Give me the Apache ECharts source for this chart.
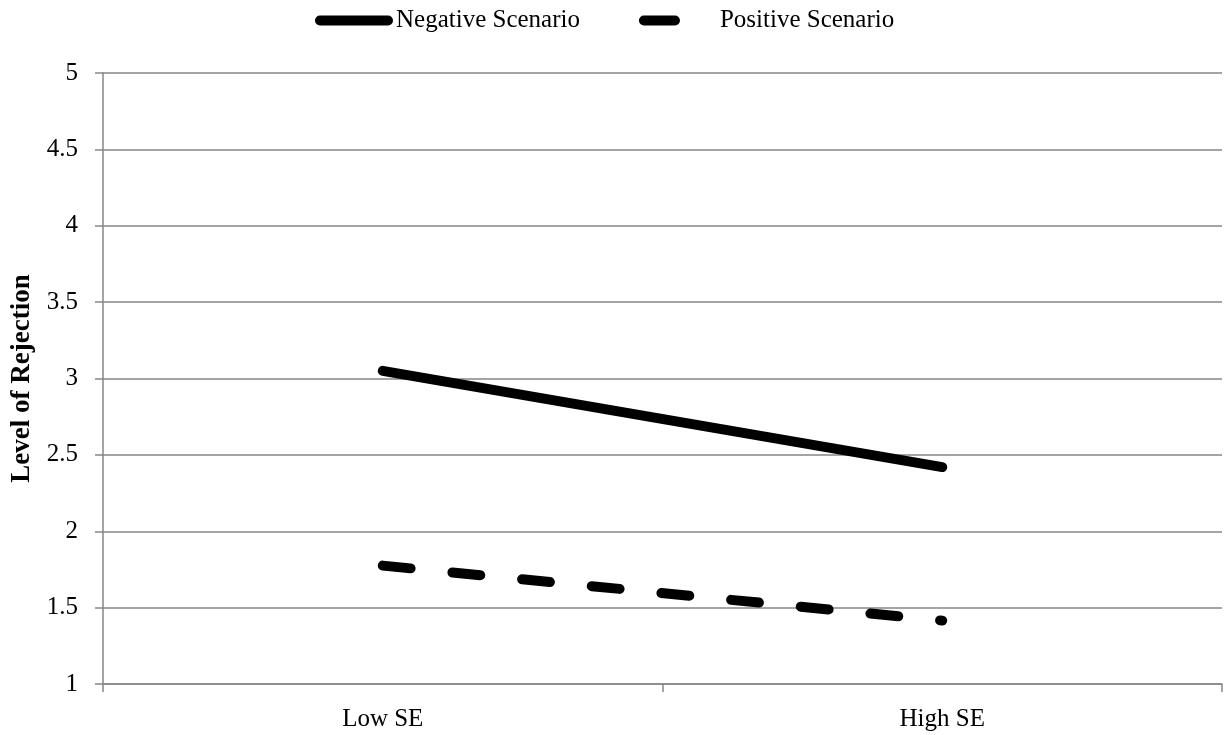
<!DOCTYPE html>
<html>
<head>
<meta charset="utf-8">
<script src="https://cdn.jsdelivr.net/npm/echarts@6/dist/echarts.min.js"></script>
<style>
html,body{margin:0;padding:0;background:#fff;}
#chart{width:1225px;height:735px;}
</style>
</head>
<body>
<div id="chart"></div>
<script>
const categories = ['Low SE', 'High SE'];
const negativeScenario = [3.05, 2.42];
const positiveScenario = [1.775, 1.415];
const yTicks = [1, 1.5, 2, 2.5, 3, 3.5, 4, 4.5, 5];
const seriesNames = ['Negative Scenario', 'Positive Scenario'];
const yAxisTitle = 'Level of Rejection';

const FONT = '"Liberation Serif", "DejaVu Serif", serif';
const GRID_COLOR = '#868686';
const chart = echarts.init(document.getElementById('chart'));
chart.setOption({
  animation: false,
  backgroundColor: '#ffffff',
  textStyle: { fontFamily: FONT, color: '#000' },
  legend: {
    top: 8,
    left: 315,
    padding: 0,
    itemWidth: 78,
    itemHeight: 10,
    itemGap: 59,
    textStyle: { fontFamily: FONT, fontSize: 25, color: '#000', padding: [0, 0, 0, -2] },
    data: [
      { name: seriesNames[0], icon: 'path://M5,0 H73 A5,5 0 0 1 73,10 H5 A5,5 0 0 1 5,0 Z' },
      { name: seriesNames[1], icon: 'path://M5,0 H36 A5,5 0 0 1 36,10 H5 A5,5 0 0 1 5,0 Z M78,10 M78,0' }
    ]
  },
  grid: { left: 103, right: 3, top: 73, bottom: 51, containLabel: false, outerBoundsMode: 'none' },
  xAxis: {
    type: 'category',
    data: categories,
    boundaryGap: true,
    axisLine: { lineStyle: { color: GRID_COLOR, width: 1.5 } },
    axisTick: { show: true, length: 8, lineStyle: { color: GRID_COLOR, width: 1.5 } },
    axisLabel: { fontFamily: FONT, fontSize: 25, color: '#000', margin: 23 }
  },
  yAxis: {
    type: 'value',
    min: yTicks[0],
    max: yTicks[yTicks.length - 1],
    interval: 0.5,
    name: yAxisTitle,
    nameLocation: 'middle',
    nameGap: 58,
    nameRotate: 90,
    nameTextStyle: { fontFamily: FONT, fontSize: 27, fontWeight: 'bold', color: '#000' },
    axisLine: { show: true, lineStyle: { color: GRID_COLOR, width: 1.5 } },
    axisTick: { show: true, length: 8, lineStyle: { color: GRID_COLOR, width: 1.5 } },
    splitLine: { show: true, lineStyle: { color: GRID_COLOR, width: 1.5 } },
    axisLabel: { fontFamily: FONT, fontSize: 25, color: '#000', margin: 25 }
  },
  series: [
    {
      name: seriesNames[0],
      type: 'line',
      data: negativeScenario,
      symbol: 'none',
      lineStyle: { color: '#000', width: 10, cap: 'round', join: 'round' },
      itemStyle: { color: '#000' }
    },
    {
      name: seriesNames[1],
      type: 'line',
      data: positiveScenario,
      symbol: 'none',
      lineStyle: { color: '#000', width: 10, type: [28, 42], cap: 'round', join: 'round' },
      itemStyle: { color: '#000' }
    }
  ]
});
</script>
</body>
</html>
